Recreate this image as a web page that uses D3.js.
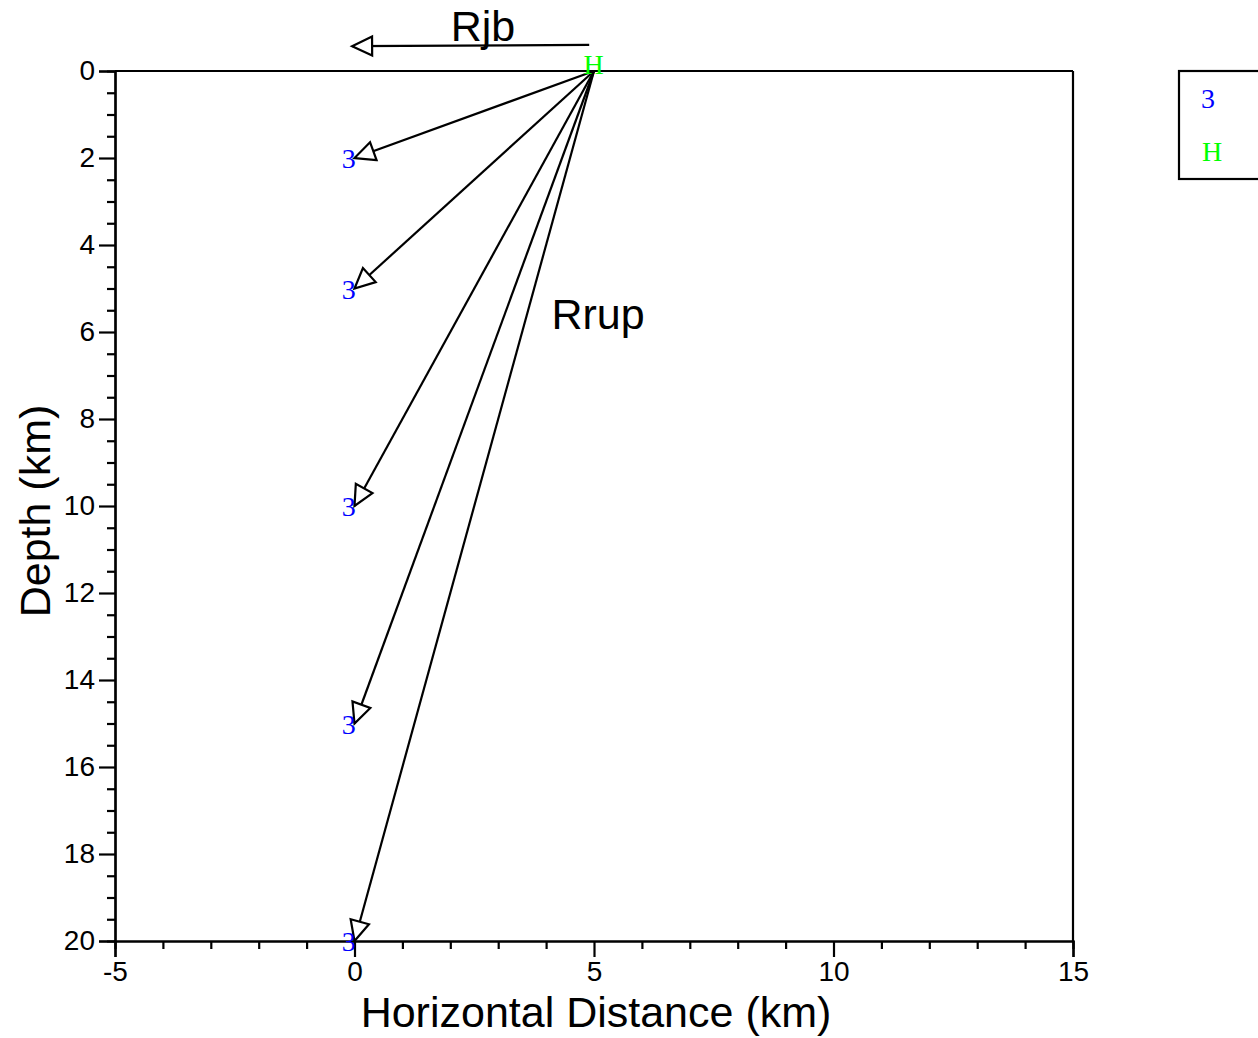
<!DOCTYPE html>
<html><head><meta charset="utf-8">
<script src="https://cdn.jsdelivr.net/npm/d3@7"></script>
<style>body{margin:0;background:#fff;}svg{display:block;}</style>
</head><body>
<svg id="c" width="1258" height="1038"></svg>
<script>
// ---- data ----
const xDomain = [-5, 15];
const yDomain = [0, 20];
const xMajorTicks = [-5, 0, 5, 10, 15];
const yMajorTicks = [0, 2, 4, 6, 8, 10, 12, 14, 16, 18, 20];
const hypocenter = {x: 5, y: 0};
const siteDepths = [2, 5, 10, 15, 20];
const siteX = 0;
const siteMarkers = [
  {x: -0.12, y: 2}, {x: -0.12, y: 5}, {x: -0.12, y: 10}, {x: -0.12, y: 15}, {x: -0.12, y: 20}
];
const hypoMarker = [{x: 4.99, y: -0.17}];
const rjbArrow = {x1: 4.9, y1: -0.6, x2: -0.05, y2: -0.57};
const legendItems = [{label: "3", color: "#0000ff"}, {label: "H", color: "#00ff00"}];

// ---- chart ----
const svg = d3.select("#c");
const x = d3.scaleLinear().domain(xDomain).range([115, 1073]);
const y = d3.scaleLinear().domain(yDomain).range([71, 941]);
const sans = "'Liberation Sans', Arial, sans-serif";
const serif = "'Liberation Serif', 'Times New Roman', serif";
const fmt = d => String(d);

// arrow marker
const defs = svg.append("defs");
defs.append("marker").attr("id", "arr")
  .attr("markerUnits", "userSpaceOnUse")
  .attr("viewBox", "-2 -12 25 24")
  .attr("markerWidth", 25).attr("markerHeight", 24)
  .attr("refX", 20).attr("refY", 0)
  .attr("orient", "auto")
  .append("path").attr("d", "M0,-9.5L20,0L0,9.5Z")
  .attr("fill", "#fff").attr("stroke", "#000").attr("stroke-width", 2.2);

// frame top & right
svg.append("line").attr("x1", x(-5)).attr("x2", x(15)).attr("y1", y(0)).attr("y2", y(0))
  .attr("stroke", "#000").attr("stroke-width", 2.2);
svg.append("line").attr("x1", x(15)).attr("x2", x(15)).attr("y1", y(0)).attr("y2", y(20))
  .attr("stroke", "#000").attr("stroke-width", 2.2);

// x axis
const xMinor = d3.range(-5, 15.01, 1).filter(v => !xMajorTicks.includes(v));
const gx = svg.append("g").attr("transform", `translate(0,${y(20)})`);
gx.call(d3.axisBottom(x).tickValues(xMinor).tickSize(8).tickFormat(""));
gx.append("g").call(d3.axisBottom(x).tickValues(xMajorTicks).tickSize(16).tickPadding(4).tickFormat(fmt));
gx.selectAll("path.domain").attr("stroke-width", 2.2);
gx.selectAll(".tick line").attr("stroke-width", 2.2);
gx.selectAll("text").attr("font-family", sans).attr("font-size", 28).attr("fill", "#000");

// y axis
const yMinor = d3.range(0, 20.01, 0.5).filter(v => !yMajorTicks.includes(v));
const gy = svg.append("g").attr("transform", `translate(${x(-5)},0)`);
gy.call(d3.axisLeft(y).tickValues(yMinor).tickSize(8).tickFormat(""));
gy.append("g").call(d3.axisLeft(y).tickValues(yMajorTicks).tickSize(16).tickPadding(4).tickFormat(fmt));
gy.selectAll("path.domain").attr("stroke-width", 2.2);
gy.selectAll(".tick line").attr("stroke-width", 2.2);
gy.selectAll("text").attr("font-family", sans).attr("font-size", 28).attr("fill", "#000");

// axis titles
svg.append("text").attr("x", 596).attr("y", 1027).attr("text-anchor", "middle")
  .attr("font-family", sans).attr("font-size", 43).text("Horizontal Distance (km)");
svg.append("text").attr("transform", "translate(50,511) rotate(-90)").attr("text-anchor", "middle")
  .attr("font-family", sans).attr("font-size", 43).text("Depth (km)");

// Rrup arrows
svg.append("g").selectAll("line").data(siteDepths).join("line")
  .attr("x1", x(hypocenter.x)).attr("y1", y(hypocenter.y))
  .attr("x2", x(siteX)).attr("y2", d => y(d))
  .attr("stroke", "#000").attr("stroke-width", 2.2).attr("marker-end", "url(#arr)");

// Rjb arrow
svg.append("line").attr("x1", x(rjbArrow.x1)).attr("y1", y(rjbArrow.y1))
  .attr("x2", x(rjbArrow.x2)).attr("y2", y(rjbArrow.y2))
  .attr("stroke", "#000").attr("stroke-width", 2.2).attr("marker-end", "url(#arr)");

// labels
svg.append("text").attr("x", 483).attr("y", 41).attr("text-anchor", "middle")
  .attr("font-family", sans).attr("font-size", 43).text("Rjb");
svg.append("text").attr("x", 598).attr("y", 329).attr("text-anchor", "middle")
  .attr("font-family", sans).attr("font-size", 43).text("Rrup");

// markers
svg.append("g").selectAll("text").data(siteMarkers).join("text")
  .attr("x", d => x(d.x)).attr("y", d => y(d.y)).attr("dy", 10)
  .attr("text-anchor", "middle").attr("font-family", serif).attr("font-size", 28)
  .attr("fill", legendItems[0].color).text(legendItems[0].label);
svg.append("g").selectAll("text").data(hypoMarker).join("text")
  .attr("x", d => x(d.x)).attr("y", d => y(d.y)).attr("dy", 10)
  .attr("text-anchor", "middle").attr("font-family", serif).attr("font-size", 28)
  .attr("fill", legendItems[1].color).text(legendItems[1].label);

// legend
const lg = svg.append("g").attr("transform", "translate(1179,71)");
lg.append("rect").attr("width", 120).attr("height", 108)
  .attr("fill", "none").attr("stroke", "#000").attr("stroke-width", 2.2);
lg.selectAll("text").data(legendItems).join("text")
  .attr("x", (d, i) => i === 0 ? 29 : 33).attr("y", (d, i) => 37 + i * 53)
  .attr("text-anchor", "middle").attr("font-family", serif).attr("font-size", 28)
  .attr("fill", d => d.color).text(d => d.label);
</script>
</body></html>
